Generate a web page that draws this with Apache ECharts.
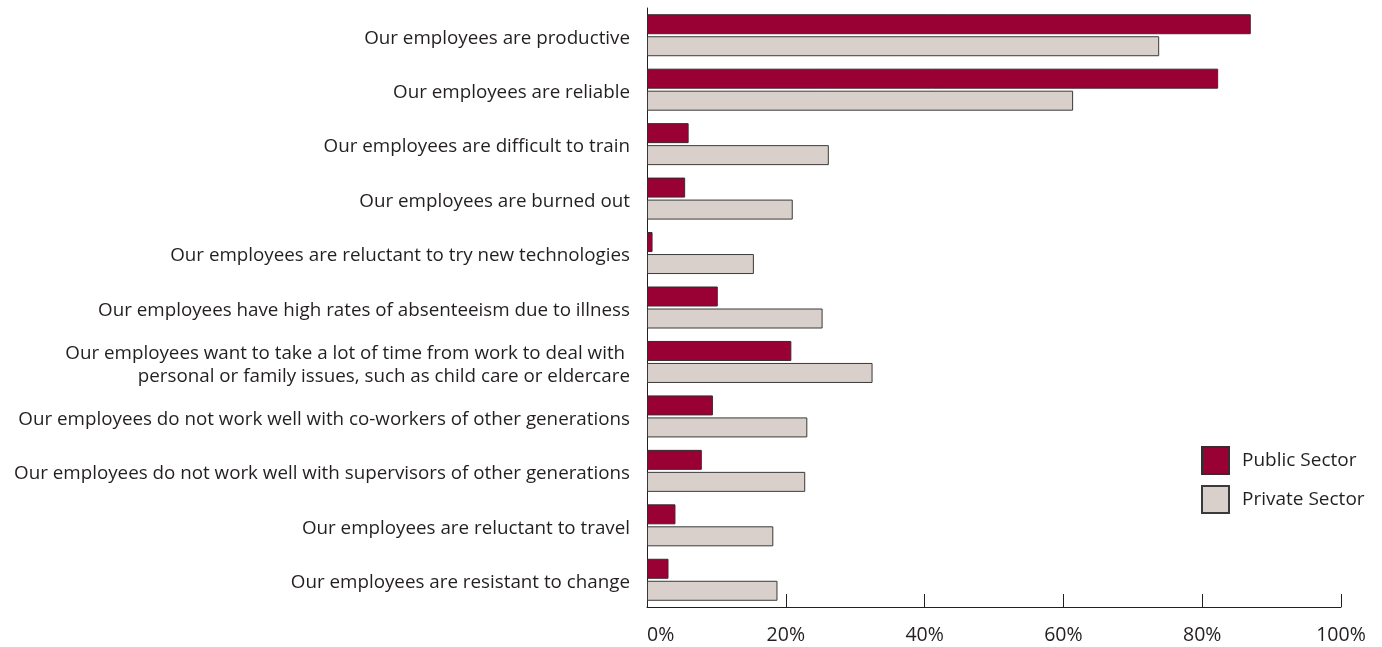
<!DOCTYPE html>
<html>
<head>
<meta charset="utf-8">
<script src="https://cdn.jsdelivr.net/npm/echarts@6/dist/echarts.min.js"></script>
<style>html,body{margin:0;padding:0;background:#fff;}#c{width:1382px;height:647px;}</style>
</head>
<body>
<div id="c"></div>
<script>
const categories = [
  "Our employees are productive",
  "Our employees are reliable",
  "Our employees are difficult to train",
  "Our employees are burned out",
  "Our employees are reluctant to try new technologies",
  "Our employees have high rates of absenteeism due to illness",
  "Our employees want to take a lot of time from work to deal with \npersonal or family issues, such as child care or eldercare",
  "Our employees do not work well with co-workers of other generations",
  "Our employees do not work well with supervisors of other generations",
  "Our employees are reluctant to travel",
  "Our employees are resistant to change"
];
const publicSector = [87.0, 82.3, 6.0, 5.5, 0.8, 10.2, 20.8, 9.5, 7.9, 4.1, 3.1];
const privateSector = [73.8, 61.4, 26.2, 21.0, 15.4, 25.3, 32.5, 23.1, 22.8, 18.2, 18.8];
const xTicks = [0, 20, 40, 60, 80, 100];

const FONT = "Open Sans";
const chart = echarts.init(document.getElementById('c'), null, {renderer: 'canvas'});
chart.setOption({
  animation: false,
  backgroundColor: '#fff',
  textStyle: {fontFamily: FONT},
  grid: {left: 647, right: 41, top: 8, bottom: 40, containLabel: false},
  legend: {
    orient: 'vertical', left: 1201, top: 446, padding: 0,
    itemWidth: 27, itemHeight: 27, itemGap: 10,
    icon: 'rect',
    textStyle: {fontFamily: FONT, fontSize: 19, color: '#231f20', padding: [0, 0, 0, 8]},
    data: ['Public Sector', 'Private Sector']
  },
  xAxis: {
    type: 'value', min: 0, max: 100, interval: 20,
    axisLine: {show: true, lineStyle: {color: '#231f20', width: 1}},
    axisTick: {show: true, inside: true, length: 13, lineStyle: {color: '#231f20', width: 1}},
    splitLine: {show: false},
    axisLabel: {
      formatter: v => xTicks.includes(v) ? v + '%' : '',
      fontFamily: FONT, fontSize: 19.5, color: '#231f20', margin: 18,
      alignMinLabel: 'left'
    }
  },
  yAxis: {
    type: 'category', data: categories, inverse: true,
    axisLine: {show: true, lineStyle: {color: '#231f20', width: 1}},
    axisTick: {show: false},
    axisLabel: {
      margin: 17, align: 'right',
      formatter: v => v.split('\n').map(s => '{t|' + s + '}').join('\n'),
      rich: {t: {fontFamily: FONT, fontSize: 18.8, color: '#231f20', lineHeight: 23, padding: [6, 0, 0, 0]}}
    }
  },
  series: [
    {
      name: 'Public Sector', type: 'bar', data: publicSector,
      barWidth: 20, barGap: '10%',
      itemStyle: {color: '#990033', borderColor: '#3a2a2e', borderWidth: 1}
    },
    {
      name: 'Private Sector', type: 'bar', data: privateSector,
      barWidth: 20,
      itemStyle: {color: '#d9d0cb', borderColor: '#3a3a3a', borderWidth: 1}
    }
  ]
});
</script>
</body>
</html>
